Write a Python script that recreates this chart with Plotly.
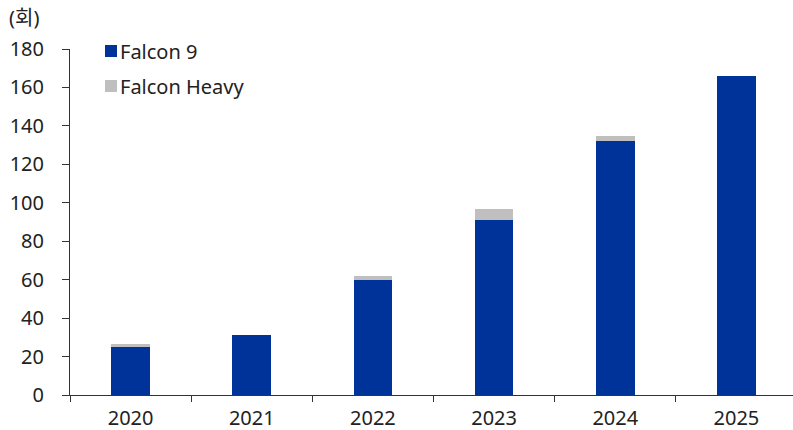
import plotly.graph_objects as go

years = ["2020", "2021", "2022", "2023", "2024", "2025"]
falcon9 = [25, 31, 60, 91, 132, 166]
falcon_heavy = [1.5, 0, 1.7, 5.8, 2.8, 0]
y_ticks = [0, 20, 40, 60, 80, 100, 120, 140, 160, 180]

BLUE = "#003399"
GRAY = "#BFBFBF"
FONT = "Noto Sans, Noto Sans CJK KR"

W, H = 793, 430
L, R, T, B = 70, 0, 49, 35
pw, ph = W - L - R, H - T - B

def px(x):
    return (x - L) / pw

def py(y):
    return (H - B - y) / ph

fig = go.Figure()
fig.add_trace(go.Bar(x=years, y=falcon9, name="Falcon 9", marker_color=BLUE,
                     marker_line_width=0, width=0.32, showlegend=False))
fig.add_trace(go.Bar(x=years, y=falcon_heavy, name="Falcon Heavy", marker_color=GRAY,
                     marker_line_width=0, width=0.32, showlegend=False))

shapes = []
annotations = []
for name, col, yc in [("Falcon 9", BLUE, 51), ("Falcon Heavy", GRAY, 86)]:
    shapes.append(dict(type="rect", xref="paper", yref="paper",
                       x0=px(105), x1=px(117), y0=py(yc - 6), y1=py(yc + 6),
                       fillcolor=col, line_width=0))
    annotations.append(dict(xref="paper", yref="paper", x=px(118), y=py(yc),
                            xanchor="left", yanchor="middle", text=name, showarrow=False,
                            font=dict(family=FONT, size=20, color="#222")))
annotations.append(dict(xref="paper", yref="paper", x=px(7), y=py(18),
                        xanchor="left", yanchor="middle", text="(회)", showarrow=False,
                        font=dict(family=FONT, size=20, color="#222")))

fig.update_layout(
    width=W, height=H, barmode="stack",
    margin=dict(l=L, r=R, t=T, b=B),
    plot_bgcolor="white", paper_bgcolor="white",
    font=dict(family=FONT, size=20, color="#222"),
    shapes=shapes, annotations=annotations,
    xaxis=dict(range=[-0.5, 5.467], showline=True, linecolor="#333", linewidth=1,
               ticks="outside", tickson="boundaries", ticklen=6, tickcolor="#333",
               showgrid=False, tickfont=dict(size=20), ticklabelstandoff=5,
               automargin=False),
    yaxis=dict(range=[0, 180], tickvals=y_ticks, showline=True, linecolor="#333",
               linewidth=1, ticks="outside", ticklen=7, tickcolor="#333",
               showgrid=False, zeroline=False, tickfont=dict(size=20),
               ticklabelstandoff=14, automargin=False),
)
fig.write_html("out.html")
